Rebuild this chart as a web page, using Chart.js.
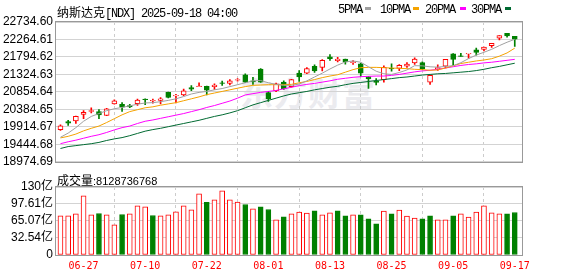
<!DOCTYPE html>
<html><head><meta charset="utf-8">
<script src="https://cdn.jsdelivr.net/npm/chart.js@4/dist/chart.umd.min.js"></script>
<style>
html,body{margin:0;padding:0;background:#fff;}
#wrap{position:relative;width:578px;height:276px;overflow:hidden;background:#fff;}
canvas{position:absolute;left:0;z-index:1;}
#c1{top:0;}
#c2{top:172px;}
.t{position:absolute;white-space:nowrap;color:#000;line-height:12px;z-index:2;}
.cjk{font:12px 'Noto Sans CJK SC';}
.mono{font:12px 'Liberation Mono';letter-spacing:-1.2px;}
.sw{position:absolute;width:6px;height:3px;z-index:2;}
#wm{position:absolute;left:240px;top:74px;font:bold 33px 'Noto Sans CJK SC';color:#ebebef;line-height:36px;z-index:0;letter-spacing:1px;}
</style></head><body>
<div id="wrap">
<div id="wm">东方财富</div>
<canvas id="c1" width="578" height="172"></canvas>
<canvas id="c2" width="578" height="104"></canvas>
<div class="t" style="left:57px;top:3px;"><span class="cjk">纳斯达克</span><span class="mono">[NDX] 2025-09-18 04:00</span></div>
<div class="t mono" style="left:338px;top:3px;">5PMA</div>
<div class="sw" style="left:365px;top:7px;background:#a0a0a0;"></div>
<div class="t mono" style="left:380px;top:3px;">10PMA</div>
<div class="sw" style="left:413px;top:7px;background:#f5a300;"></div>
<div class="t mono" style="left:425px;top:3px;">20PMA</div>
<div class="sw" style="left:460px;top:7px;background:#ff00ff;"></div>
<div class="t mono" style="left:471px;top:3px;">30PMA</div>
<div class="sw" style="left:505px;top:7px;background:#006a32;"></div>
<div class="t" style="left:57px;top:171px;"><span class="cjk">成交量</span><span style="font:11px 'Liberation Sans';">:8128736768</span></div>
</div>
<script>
const dates = ['06-24','06-25','06-26','06-27','06-30','07-01','07-02','07-03','07-07','07-08','07-09','07-10','07-11','07-14','07-15','07-16','07-17','07-18','07-21','07-22','07-23','07-24','07-25','07-28','07-29','07-30','07-31','08-01','08-04','08-05','08-06','08-07','08-08','08-11','08-12','08-13','08-14','08-15','08-18','08-19','08-20','08-21','08-22','08-25','08-26','08-27','08-28','08-29','09-02','09-03','09-04','09-05','09-08','09-09','09-10','09-11','09-12','09-15','09-16','09-17'];
const open = [19841.2,20056.8,20074.1,20246.4,20332.8,20324.2,20220.7,20531.1,20522.5,20488.0,20539.8,20660.5,20608.8,20626.0,20841.6,20746.7,20772.6,20971.0,20996.8,21005.5,20996.8,21100.3,21083.1,21169.3,21315.9,21152.0,21471.2,20833.0,20884.7,21117.6,20996.8,21359.0,21359.0,21540.2,21514.3,21798.9,21695.4,21738.5,21643.6,21609.1,21264.2,21152.0,21186.6,21488.4,21488.4,21548.8,21635.0,21643.6,21117.6,21479.8,21548.8,21876.5,21824.7,21876.5,21988.6,21997.2,22100.7,22299.0,22428.4,22350.8];
const high = [19970.5,20091.3,20203.4,20350.0,20427.7,20375.9,20410.4,20643.3,20565.6,20522.5,20660.5,20669.1,20660.5,20703.6,20850.2,20789.9,20927.8,21022.7,21100.3,21014.1,21074.4,21143.4,21186.6,21212.4,21341.8,21246.9,21479.8,20867.5,21091.7,21152.0,21195.2,21428.0,21505.7,21583.3,21721.3,21859.2,21781.6,21738.5,21695.4,21626.4,21264.2,21212.4,21557.4,21609.1,21591.9,21643.6,21773.0,21660.9,21298.7,21583.3,21730.0,21885.1,21893.8,21893.8,22031.7,22057.6,22161.1,22368.0,22428.4,22350.8];
const low = [19815.4,19953.3,20005.1,20134.4,20289.7,20134.4,20212.0,20522.5,20332.8,20427.7,20488.0,20514.0,20548.4,20531.1,20695.0,20557.0,20755.4,20884.7,20996.8,20772.6,20919.2,21031.3,21039.9,21143.4,21100.3,21057.2,21110.0,20600.1,20858.9,20919.2,20979.6,21134.8,21341.8,21376.3,21419.4,21704.0,21660.9,21600.5,21591.9,21272.8,20945.1,21039.9,21117.6,21410.8,21428.0,21514.3,21591.9,21462.5,21057.2,21432.3,21497.0,21557.4,21807.5,21764.4,21842.0,21954.1,22049.0,22255.9,22325.0,22074.8];
const close = [19944.7,20013.7,20194.6,20306.9,20350.0,20237.9,20401.6,20617.2,20445.0,20450.0,20634.6,20643.3,20626.0,20669.1,20703.6,20764.0,20884.7,20927.8,21014.1,20902.0,21039.9,21083.1,21152.0,21186.6,21117.6,21126.2,21118.0,20669.1,21074.4,20936.5,21186.6,21255.6,21479.8,21419.4,21704.0,21747.1,21740.0,21660.0,21665.0,21359.0,21203.8,21108.9,21514.3,21471.2,21566.0,21600.5,21738.5,21471.2,21298.7,21505.7,21730.0,21725.0,21807.5,21893.8,21919.6,22057.6,22161.1,22368.0,22360.0,22273.2];
const ma5 = [19634.2,19746.4,19893.0,20065.4,20194.8,20272.4,20350.0,20401.8,20436.3,20479.4,20522.5,20557.0,20565.6,20591.5,20626.0,20669.1,20729.5,20798.5,20841.6,20867.5,20910.6,20945.1,20996.8,21048.6,21100.3,21152.1,21160.7,21100.3,21057.2,21031.3,21031.3,21065.8,21152.1,21255.6,21359.0,21471.2,21574.6,21660.9,21686.8,21652.3,21531.5,21410.8,21341.8,21324.6,21376.3,21445.3,21560.0,21555.0,21530.0,21520.0,21540.0,21560.0,21640.0,21750.0,21845.0,21920.0,22000.0,22100.0,22190.0,22270.0];
const ma10 = [19617.0,19660.1,19720.5,19806.7,19875.7,19936.1,20031.0,20134.4,20237.9,20324.2,20375.9,20427.7,20453.5,20496.6,20531.1,20565.6,20617.4,20669.1,20720.9,20781.2,20824.4,20867.5,20910.6,20953.7,20996.8,21031.3,21040.0,21048.6,21048.6,21048.6,21057.2,21100.3,21134.8,21186.6,21238.3,21281.4,21315.9,21384.9,21453.9,21505.7,21514.3,21514.3,21505.7,21497.0,21488.4,21479.8,21462.5,21453.9,21436.7,21445.3,21497.0,21557.4,21617.8,21652.3,21686.8,21712.6,21747.1,21816.1,21902.4,22031.7];
const ma20 = [19461.8,19513.5,19556.6,19608.4,19660.1,19703.2,19763.6,19832.6,19893.0,19936.1,20005.1,20065.4,20099.9,20143.1,20186.2,20229.3,20272.4,20324.2,20375.9,20436.3,20488.0,20548.4,20608.8,20686.4,20772.6,20807.1,20841.6,20867.5,20893.4,20936.5,20979.6,21022.7,21057.2,21083.1,21117.6,21152.1,21195.2,21221.1,21246.9,21264.2,21272.8,21281.4,21281.4,21298.7,21324.6,21359.0,21393.5,21419.4,21436.7,21462.5,21497.0,21531.5,21566.0,21591.9,21609.1,21635.0,21652.3,21678.1,21704.0,21729.9];
const ma30 = [19332.4,19384.2,19410.0,19435.9,19461.8,19496.3,19548.0,19591.1,19625.6,19677.4,19737.7,19798.1,19841.2,19875.7,19918.8,19962.0,20005.1,20048.2,20091.3,20143.1,20194.8,20237.9,20289.7,20350.0,20427.7,20505.3,20565.6,20626.0,20686.4,20746.7,20798.5,20833.0,20867.5,20910.6,20945.1,20979.6,21005.5,21048.6,21083.1,21109.0,21134.8,21160.7,21186.6,21212.4,21238.3,21255.6,21281.4,21307.3,21324.6,21341.8,21350.4,21367.7,21384.9,21402.2,21428.0,21462.5,21505.7,21540.2,21583.3,21626.4];
const volume = [74.9,74.9,78.7,113.3,76.8,79.4,76.8,57.6,77.4,78.7,94.1,92.2,75.5,74.9,76.8,82.6,94.1,86.4,117.1,100.5,105.6,122.9,105.6,101.1,96.6,88.3,92.2,87.0,67.2,73.0,78.7,81.9,80.0,84.5,76.8,80.6,84.5,74.9,76.8,76.8,69.1,59.5,83.8,78.7,85.8,74.2,70.4,69.1,74.9,67.2,67.2,74.9,78.7,72.3,81.9,94.1,80.6,78.7,78.7,81.29];
const volUp = [1,1,1,1,1,0,1,1,0,1,1,1,0,1,1,1,1,1,1,0,1,1,1,1,0,1,0,0,1,0,1,1,1,0,1,1,0,0,1,0,0,0,1,0,1,1,1,0,0,1,1,0,1,1,1,1,1,1,0,0];
const priceTicks = [22734.60,22264.61,21794.62,21324.63,20854.64,20384.65,19914.67,19444.68,18974.69];
const volTicks = [0,32.54,65.07,97.61,130];
const labelIdx = [3,11,19,27,35,43,51,59];

const RED = '#ff0000', GRN = '#008000';
const X_MIN = -0.58, X_MAX = 59.94;
const up = close.map((c,i) => c >= open[i]);

const frame = {id:'frame', afterDraw(c){
  const a = c.chartArea, x = c.ctx;
  x.save(); x.strokeStyle = '#999'; x.lineWidth = 1;
  x.strokeRect(Math.round(a.left)-0.5, Math.round(a.top)-0.5, Math.round(a.right-a.left)+1, Math.round(a.bottom-a.top)+1);
  x.restore();
}};

function xScale(show){
  return {type:'linear', min:X_MIN, max:X_MAX, offset:false, bounds:'data',
    afterBuildTicks: s => { s.ticks = labelIdx.map(v => ({value:v})); },
    afterFit: s => { s.height = show ? 21 : 0; },
    grid:{color:'#cccccc', drawTicks:false, tickLength:0, lineWidth:1},
    border:{display:false, dash:[3,3]},
    ticks:{display:show, autoSkip:false, maxRotation:0, padding:5, color:RED,
      font:{family:"'DejaVu Sans Mono'", size:10}, callback: v => dates[v]}
  };
}
const yFont = {family:"'Liberation Sans', 'Noto Sans CJK SC'", size:12};

const pts = arr => arr.map((v,i) => ({x:i, y:v}));
const line = (arr, col) => ({type:'line', data:pts(arr), borderColor:col, borderWidth:1, pointRadius:0, tension:0, order:0, fill:false});

new Chart(document.getElementById('c1'), {
  type:'bar',
  data:{datasets:[
    {data: open.map((o,i) => ({x:i, y:[low[i], high[i]]})), backgroundColor: up.map(u => u?RED:GRN), barThickness:1, grouped:false, order:3, borderWidth:0},
    {data: open.map((o,i) => ({x:i, y:[o, close[i]]})), backgroundColor: up.map(u => u?'#ffffff':GRN), borderColor: up.map(u => u?RED:GRN), borderWidth:1, borderSkipped:false, barThickness:5, grouped:false, order:2},
    line(ma5, '#a0a0a0'), line(ma10, '#f5a300'), line(ma20, '#ff00ff'), line(ma30, '#006a32')
  ]},
  options:{responsive:false, animation:false, devicePixelRatio:1,
    layout:{padding:{top:22, bottom:7, left:0, right:56}},
    plugins:{legend:{display:false}, tooltip:{enabled:false}},
    scales:{
      x: xScale(false),
      y: {type:'linear', min:18974.69, max:22734.60, bounds:'data',
        afterBuildTicks: s => { s.ticks = priceTicks.map(v => ({value:v})); },
        afterFit: s => { s.width = 56; },
        grid:{color:'#d3d3d3', drawTicks:false, tickLength:0},
        border:{display:false},
        ticks:{color:'#000', padding:3, autoSkip:false, font:yFont, callback: v => v.toFixed(2)}}
    }
  },
  plugins:[frame]
});

new Chart(document.getElementById('c2'), {
  type:'bar',
  data:{datasets:[
    {data: volume.map((v,i) => ({x:i, y:v})), backgroundColor: volUp.map(u => u?'#ffffff':GRN), borderColor: volUp.map(u => u?RED:GRN), borderWidth:1, borderSkipped:false, barThickness:5, grouped:false}
  ]},
  options:{responsive:false, animation:false, devicePixelRatio:1,
    layout:{padding:{top:15, bottom:0, left:0, right:56}},
    plugins:{legend:{display:false}, tooltip:{enabled:false}},
    scales:{
      x: xScale(true),
      y: {type:'linear', min:0, max:130, bounds:'data',
        afterBuildTicks: s => { s.ticks = volTicks.map(v => ({value:v})); },
        afterFit: s => { s.width = 56; },
        grid:{color:'#d3d3d3', drawTicks:false, tickLength:0},
        border:{display:false},
        ticks:{color:'#000', padding:3, autoSkip:false, font:yFont, callback: v => v === 0 ? '0' : v + '亿'}}
    }
  },
  plugins:[frame]
});
</script>
</body></html>
